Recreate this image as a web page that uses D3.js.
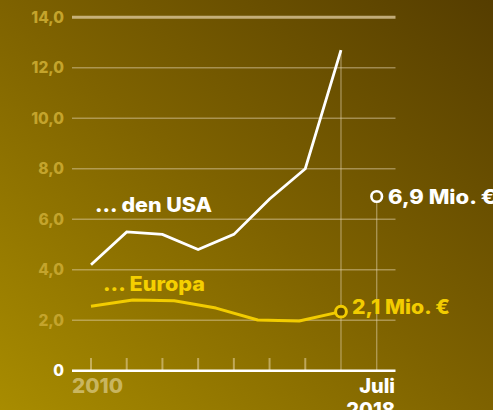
<!DOCTYPE html>
<html><head><meta charset="utf-8">
<script src="https://cdn.jsdelivr.net/npm/d3@7"></script>
<style>html,body{margin:0;padding:0;background:#7a5e00;overflow:hidden}svg{display:block}text{font-family:Inter,"Open Sans",sans-serif;font-weight:800}</style>
</head><body>
<svg id="c" width="493" height="410"></svg>
<script>
const usaYears = [2010, 2011, 2012, 2013, 2014, 2015, 2016, 2017];
const usaValues = [4.2, 5.5, 5.4, 4.8, 5.4, 6.8, 8.0, 12.7];
const europaYears = [2010, 2011.17, 2012.33, 2013.5, 2014.67, 2015.83, 2017];
const europaValues = [2.55, 2.8, 2.77, 2.48, 2.01, 1.97, 2.34];
const usaJuliYear = 2018, usaJuliValue = 6.9;
const yTicks = [0, 2, 4, 6, 8, 10, 12, 14];
const yTickLabels = ["0", "2,0", "4,0", "6,0", "8,0", "10,0", "12,0", "14,0"];
const xTickYears = [2010, 2011, 2012, 2013, 2014, 2015, 2016];
const usaLabel = "... den USA", europaLabel = "... Europa";
const usaEndLabel = "6,9 Mio. €", europaEndLabel = "2,1 Mio. €";

const svg = d3.select("#c");
const defs = svg.append("defs");
const g = defs.append("linearGradient").attr("id","bg").attr("x1","0").attr("y1","1").attr("x2","1").attr("y2","0");
g.append("stop").attr("offset","0%").attr("stop-color","#a88c00");
g.append("stop").attr("offset","50%").attr("stop-color","#7e6200");
g.append("stop").attr("offset","100%").attr("stop-color","#553d00");
svg.append("rect").attr("width",493).attr("height",410).attr("fill","url(#bg)");

const x = d3.scaleLinear().domain([2010, 2018]).range([91, 376.7]);
const y = d3.scaleLinear().domain([0, 14]).range([370.7, 17.3]);
const X0 = 72, X1 = 395.5;

svg.append("g").selectAll("line").data(yTicks.filter(d => d > 0)).join("line")
  .attr("x1", X0).attr("x2", X1).attr("y1", d => y(d)).attr("y2", d => y(d))
  .attr("stroke", d => d === 14 ? "rgba(225,205,160,0.75)" : "rgba(230,215,180,0.45)")
  .attr("stroke-width", d => d === 14 ? 3 : 1.4);

svg.append("line").attr("x1", x(2017)).attr("x2", x(2017)).attr("y1", y(usaValues[usaValues.length-1])).attr("y2", y(0))
  .attr("stroke","rgba(230,215,180,0.45)").attr("stroke-width",1.4);
svg.append("line").attr("x1", x(usaJuliYear)).attr("x2", x(usaJuliYear)).attr("y1", y(usaJuliValue)).attr("y2", y(0))
  .attr("stroke","rgba(230,215,180,0.45)").attr("stroke-width",1.4);

svg.append("g").selectAll("line").data(xTickYears).join("line")
  .attr("x1", d => x(d)).attr("x2", d => x(d)).attr("y1", 358).attr("y2", y(0))
  .attr("stroke","rgba(225,205,150,0.6)").attr("stroke-width",2);

svg.append("line").attr("x1", X0).attr("x2", X1).attr("y1", y(0)).attr("y2", y(0))
  .attr("stroke","#fff").attr("stroke-width",2.5);

svg.append("g").selectAll("text").data(yTicks).join("text")
  .attr("x", 64).attr("y", d => y(d)).attr("dy","0.36em").attr("text-anchor","end")
  .attr("font-size", 15.5).attr("fill", d => d === 0 ? "#fff" : "#c4a42c")
  .text((d,i) => yTickLabels[i]);

const line = d3.line().x(d => x(d[0])).y(d => y(d[1]));
svg.append("path").datum(usaYears.map((d,i) => [d, usaValues[i]]))
  .attr("d", line).attr("fill","none").attr("stroke","#fff").attr("stroke-width",2.8).attr("stroke-linejoin","miter");
svg.append("path").datum(europaYears.map((d,i) => [d, europaValues[i]]))
  .attr("d", line).attr("fill","none").attr("stroke","#f2cc00").attr("stroke-width",3).attr("stroke-linejoin","round");

svg.append("circle").attr("cx", x(usaJuliYear)).attr("cy", y(usaJuliValue)).attr("r", 5.3)
  .attr("fill","#735800").attr("stroke","#fff").attr("stroke-width",2.6);
svg.append("circle").attr("cx", x(europaYears[europaYears.length-1])).attr("cy", y(europaValues[europaValues.length-1])).attr("r", 5.4)
  .attr("fill","#5e4800").attr("stroke","#f2cc00").attr("stroke-width",3);

function fit(sel, w){ const n = sel.node(); const L = n.getComputedTextLength(); if (L > 0) sel.attr("textLength", w).attr("lengthAdjust","spacingAndGlyphs"); return sel; }
fit(svg.append("text").attr("x", 95).attr("y", 212).attr("font-size", 20).attr("fill","#fff").text(usaLabel), 117);
fit(svg.append("text").attr("x", 103).attr("y", 290.5).attr("font-size", 20).attr("fill","#f5d000").text(europaLabel), 102);
fit(svg.append("text").attr("x", 388).attr("y", 203.5).attr("font-size", 19.5).attr("fill","#fff").text(usaEndLabel), 108);
fit(svg.append("text").attr("x", 352).attr("y", 313.5).attr("font-size", 19.5).attr("fill","#f2cc00").text(europaEndLabel), 98);
fit(svg.append("text").attr("x", 72).attr("y", 393).attr("font-size", 20).attr("fill","rgba(232,218,160,0.6)").text("2010"), 51);
svg.append("text").attr("x", 395).attr("y", 393).attr("font-size", 20).attr("text-anchor","end").attr("fill","#fff").text("Juli");
svg.append("text").attr("x", 395).attr("y", 417).attr("font-size", 20).attr("text-anchor","end").attr("fill","#fff").text("2018");
</script>
</body></html>
